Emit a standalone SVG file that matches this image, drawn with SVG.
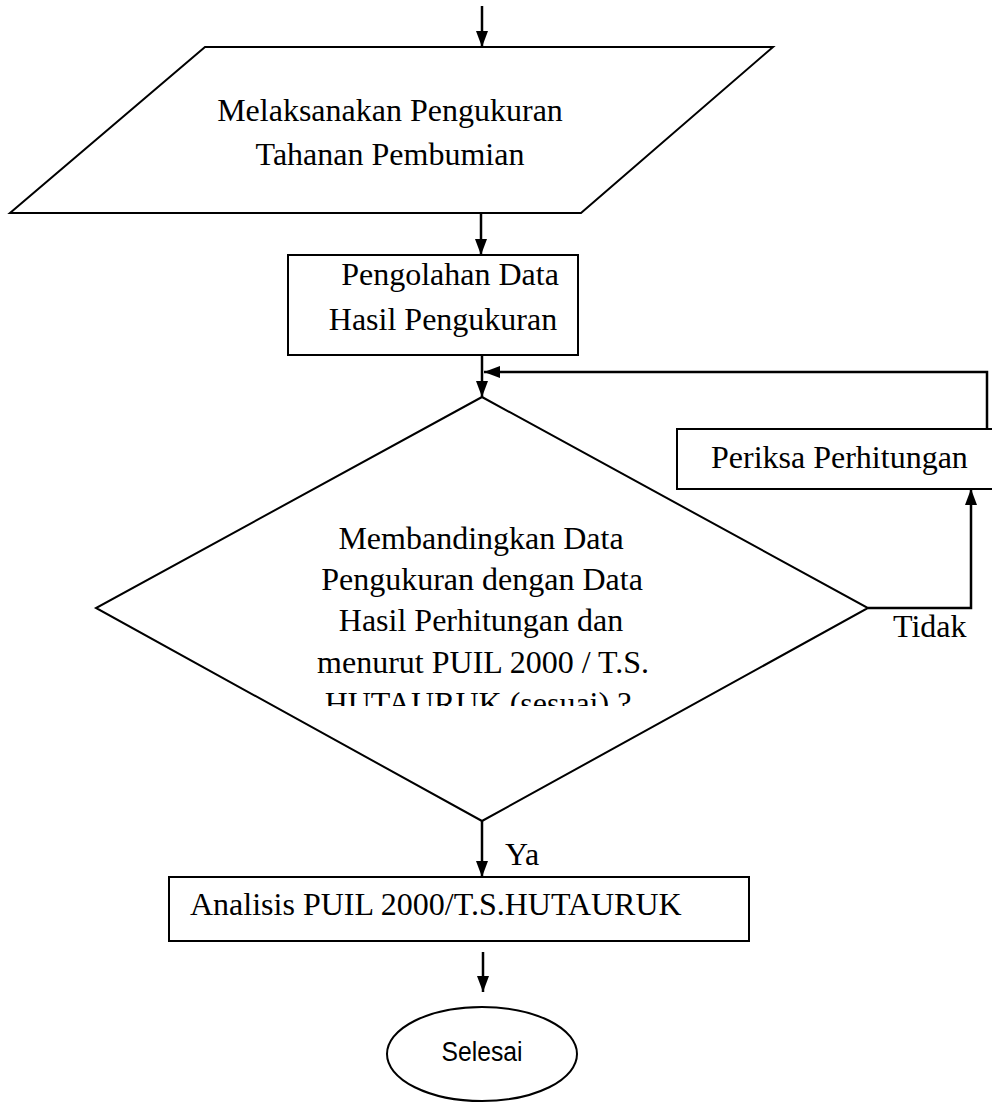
<svg xmlns="http://www.w3.org/2000/svg" width="992" height="1110" viewBox="0 0 992 1110">
<style>
.s{fill:#fff;stroke:#000;stroke-width:2}
.l{fill:none;stroke:#000;stroke-width:2.5}
.t{font-family:"Liberation Serif","Times New Roman",serif;font-size:32px;fill:#000}
.c{text-anchor:middle}
.sans{font-family:"Liberation Sans",Arial,sans-serif;font-size:27px;fill:#000;text-anchor:middle}
</style>
<defs>
<marker id="ah2" viewBox="0 0 16 12" refX="16" refY="6" markerWidth="16" markerHeight="12" markerUnits="userSpaceOnUse" orient="auto"><path d="M0,0 L16,6 L0,12 z" fill="#000"/></marker>
<clipPath id="dclip"><rect x="0" y="0" width="992" height="706"/></clipPath>
</defs>
<g id="n1">
<polygon class="s" points="205,47 773,47 581,213 10,213"/>
<text class="t c" x="390" y="121">Melaksanakan Pengukuran</text>
<text class="t c" x="390" y="165">Tahanan Pembumian</text>
</g>
<g id="n2">
<rect class="s" x="288" y="255" width="290" height="100"/>
<text class="t c" x="450" y="285">Pengolahan Data</text>
<text class="t c" x="443" y="330">Hasil Pengukuran</text>
</g>
<g id="n3">
<polygon class="s" points="482,397 868,608 482,821 96,608"/>
<g clip-path="url(#dclip)">
<text class="t c" x="481" y="549">Membandingkan Data</text>
<text class="t c" x="482" y="590">Pengukuran dengan Data</text>
<text class="t c" x="481" y="631">Hasil Perhitungan dan</text>
<text class="t c" x="483" y="673">menurut PUIL 2000 / T.S.</text>
<text class="t c" x="478" y="714">HUTAURUK (sesuai) ?</text>
</g>
</g>
<g id="n4">
<rect class="s" x="677" y="429" width="330" height="60"/>
<text class="t" x="711" y="468">Periksa Perhitungan</text>
</g>
<g id="n5">
<rect class="s" x="169" y="877" width="580" height="64"/>
<text class="t" x="190" y="915">Analisis PUIL 2000/T.S.HUTAURUK</text>
</g>
<g id="n6">
<ellipse class="s" cx="482" cy="1054" rx="95" ry="47"/>
<text class="sans" x="482" y="1061" textLength="81" lengthAdjust="spacingAndGlyphs">Selesai</text>
</g>
<g id="connectors">
<line class="l" x1="482" y1="6" x2="482" y2="47" marker-end="url(#ah2)"/>
<line class="l" x1="481" y1="213" x2="481" y2="255" marker-end="url(#ah2)"/>
<line class="l" x1="482" y1="355" x2="482" y2="397" marker-end="url(#ah2)"/>
<polyline class="l" points="987,429 987,372 484,372" marker-end="url(#ah2)"/>
<polyline class="l" points="868,608 971,608 971,489" marker-end="url(#ah2)"/>
<line class="l" x1="482" y1="821" x2="482" y2="877" marker-end="url(#ah2)"/>
<line class="l" x1="483" y1="952" x2="483" y2="992" marker-end="url(#ah2)"/>
<text class="t" x="893" y="637">Tidak</text>
<text class="t" x="505" y="865">Ya</text>
</g>
</svg>
